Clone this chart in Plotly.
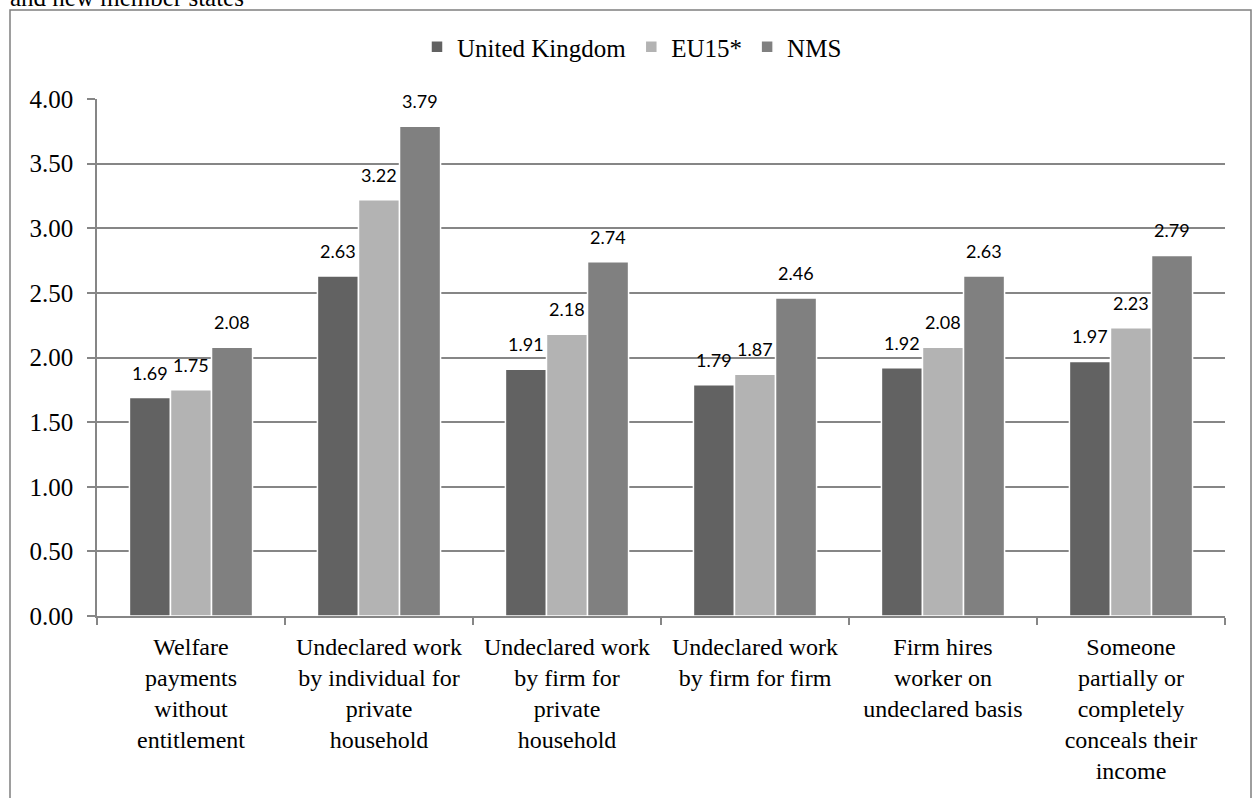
import plotly.graph_objects as go

categories = [
    "Welfare<br>payments<br>without<br>entitlement",
    "Undeclared work<br>by individual for<br>private<br>household",
    "Undeclared work<br>by firm for<br>private<br>household",
    "Undeclared work<br>by firm for firm",
    "Firm hires<br>worker on<br>undeclared basis",
    "Someone<br>partially or<br>completely<br>conceals their<br>income",
]
uk = [1.69, 2.63, 1.91, 1.79, 1.92, 1.97]
eu15 = [1.75, 3.22, 2.18, 1.87, 2.08, 2.23]
nms = [2.08, 3.79, 2.74, 2.46, 2.63, 2.79]
series_names = ["United Kingdom", "EU15*", "NMS"]
series_colors = ["#626262", "#b3b3b3", "#808080"]
y_ticks = [0, 0.5, 1.0, 1.5, 2.0, 2.5, 3.0, 3.5, 4.0]
y_tick_text = ["0.00", "0.50", "1.00", "1.50", "2.00", "2.50", "3.00", "3.50", "4.00"]

W, H = 1255, 798
ML, MR, MT, MB = 97, 30, 99, 182
BARGAP = 0.345
SERIF = "Liberation Serif"

fig = go.Figure()
all_series = [uk, eu15, nms]
for name, vals, col in zip(series_names, all_series, series_colors):
    fig.add_trace(go.Bar(
        x=categories, y=vals, name=name,
        marker=dict(color=col, line=dict(color="white", width=1.5)),
    ))

# data labels
plot_w = W - ML - MR
cat_w = plot_w / len(categories)
bar_w = cat_w * (1 - BARGAP) / len(all_series)
for si, vals in enumerate(all_series):
    off = (si - (len(all_series) - 1) / 2) * bar_w
    for c, v in zip(categories, vals):
        fig.add_annotation(x=c, y=v, text=f"{v:.2f}", showarrow=False,
                           xshift=off, yshift=25, yanchor="middle",
                           font=dict(family="Lato", size=18, color="#000"))

# partially visible caption at top
ph = H - MT - MB
fig.add_annotation(xref="paper", yref="paper", x=(8 - ML) / plot_w, y=(H - MB - 13) / ph,
                   xanchor="left", yanchor="bottom", text="and new member states", showarrow=False,
                   font=dict(family=SERIF, size=25, color="#000"))

# outer chart border
fig.add_shape(type="rect", xref="paper", yref="paper",
              x0=(10 - ML) / plot_w, x1=(1251 - ML) / plot_w,
              y0=(H - MB - 820) / ph, y1=(H - MB - 10) / ph,
              line=dict(color="#7f7f7f", width=1.5), fillcolor="rgba(0,0,0,0)", layer="below")

fig.update_layout(
    width=W, height=H,
    margin=dict(l=ML, r=MR, t=MT, b=MB, pad=0),
    paper_bgcolor="white", plot_bgcolor="white",
    barmode="group", bargap=BARGAP, bargroupgap=0,
    font=dict(family=SERIF, size=25, color="#000"),
    legend=dict(orientation="h", x=(632 - ML) / plot_w, xanchor="center",
                y=(H - MB - 47) / ph, yanchor="middle",
                font=dict(family=SERIF, size=25, color="#000"), itemwidth=30,
                bgcolor="rgba(0,0,0,0)"),
    showlegend=True,
)
fig.update_xaxes(showline=True, linecolor="#868686", linewidth=1.5,
                 ticks="outside", tickson="boundaries", ticklen=7, tickcolor="#868686", tickwidth=1.5,
                 ticklabelstandoff=8,
                 tickfont=dict(family=SERIF, size=24, color="#000"), tickangle=0, showgrid=False)
fig.update_yaxes(range=[0, 4], tickvals=y_ticks, ticktext=y_tick_text,
                 showline=True, linecolor="#868686", linewidth=1.5,
                 ticks="outside", ticklen=8, tickcolor="#868686", tickwidth=1.5,
                 ticklabelstandoff=9,
                 showgrid=True, gridcolor="#868686", gridwidth=1.5, zeroline=False,
                 tickfont=dict(family=SERIF, size=25, color="#000"))

fig.write_html("out.html")
